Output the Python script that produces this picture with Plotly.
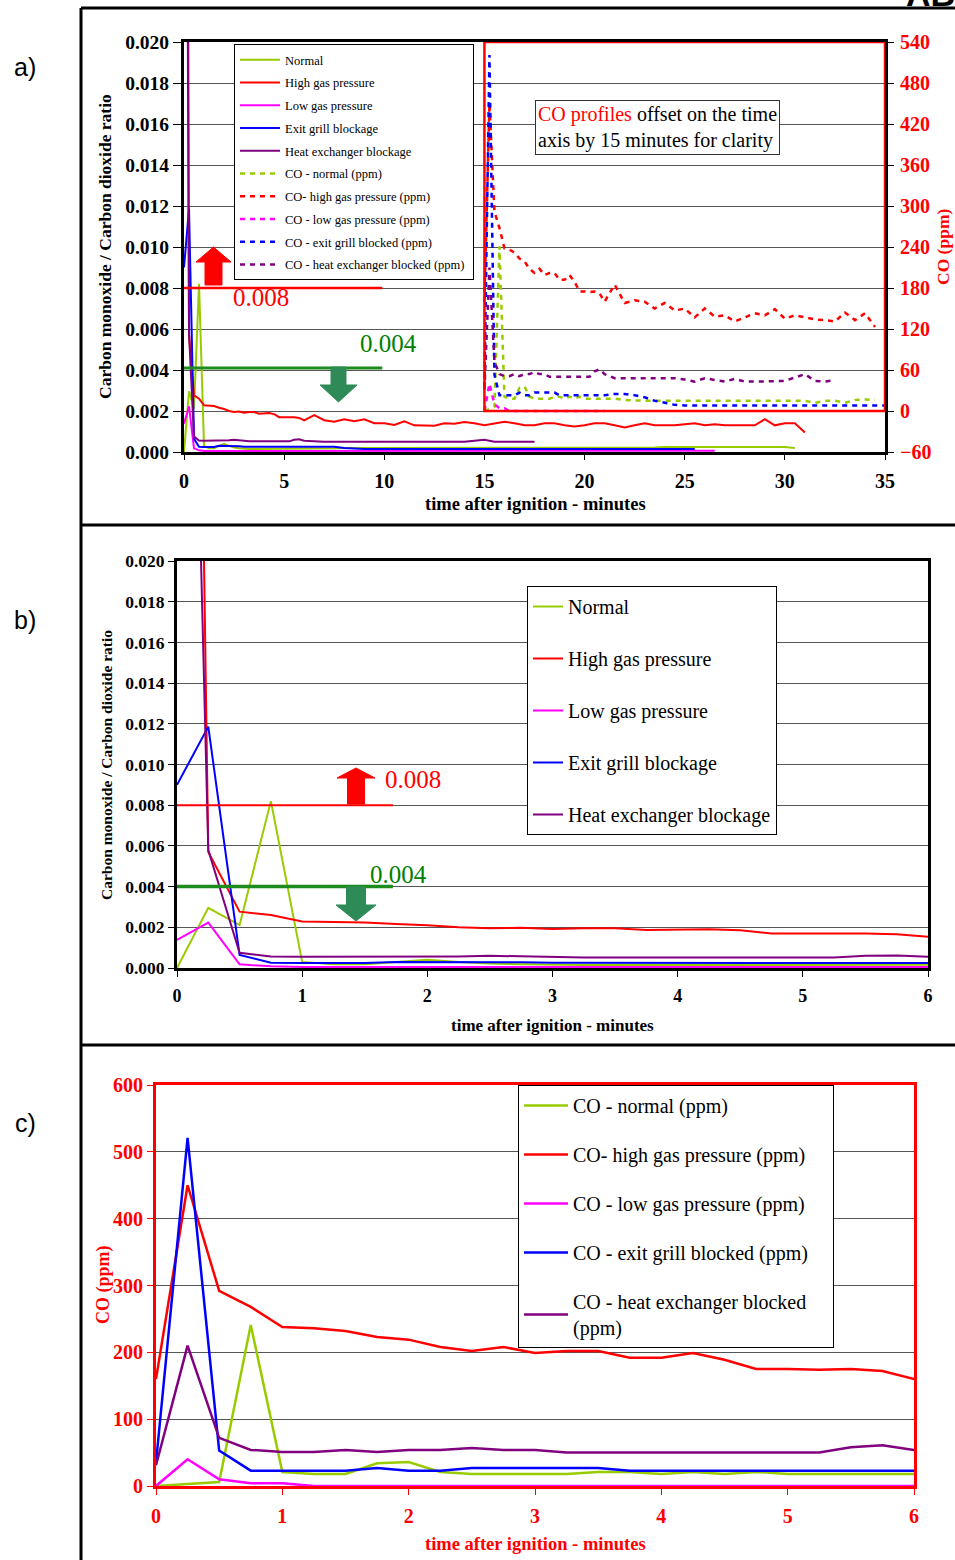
import plotly.graph_objects as go

W, H = 955, 1560


def px(x):
    return x / W


def py(y):
    return 1 - y / H


# ---------------- data ----------------
# sampling grid (minutes after ignition)
T_Q = [0.0, 0.25, 0.5, 0.75, 1.0, 1.25, 1.5, 1.75, 2.0, 2.25, 2.5, 2.75, 3.0,
       3.25, 3.5, 3.75, 4.0, 4.25, 4.5, 4.75, 5.0, 5.25, 5.5, 5.75, 6.0]
T_TAIL = [6.5, 7.0, 7.5, 8.0, 8.5, 9.0, 9.5, 10.0, 10.5, 11.0, 11.5, 12.0, 12.5,
          13.0, 13.5, 14.0, 14.5, 15.0, 15.5, 16.0, 16.5, 17.0, 17.5, 18.0, 18.5,
          19.0, 19.5, 20.0, 20.5, 21.0, 21.5, 22.0, 22.5, 23.0, 23.5, 24.0, 24.5,
          25.0, 25.5, 26.0, 26.5, 27.0, 27.5, 28.0, 28.5, 29.0, 29.5, 30.0, 30.5, 31.0]
TIME = T_Q + T_TAIL
CO_OFFSET = 15  # CO profiles shifted by 15 minutes in panel a

# CO / CO2 ratio
NORMAL_RATIO = [0.0, 0.00296, 0.00211, 0.0082, 0.0003, 0.00018, 0.00018, 0.0003, 0.0004, 0.0003,
                0.00022, 0.00018, 0.00015, 0.00015, 0.00015, 0.00015, 0.00015, 0.00015, 0.00015,
                0.00015, 0.00015, 0.00015, 0.00015, 0.00015, 0.00015,
                0.00018, 0.00018, 0.00018, 0.0002, 0.0002, 0.0002, 0.0002, 0.0002, 0.0002, 0.0002,
                0.0002, 0.0002, 0.0002, 0.0002, 0.0002, 0.0002, 0.00022, 0.00022, 0.00022, 0.00022,
                0.00022, 0.00022, 0.00022, 0.00022, 0.00022, 0.00022, 0.00022, 0.00022, 0.00022, 0.00022,
                0.00022, 0.00022, 0.00022, 0.00022, 0.00022, 0.00024, 0.00024, 0.00024, 0.00024, 0.00024,
                0.00024, 0.00024, 0.00024, 0.00024, 0.00024, 0.00024, 0.00024, 0.00024, 0.0002]
HIGH_RATIO = [0.11, 0.0057, 0.00277, 0.0026, 0.00228, 0.00226, 0.00224, 0.00216, 0.0021, 0.0020,
              0.00195, 0.00198, 0.00192, 0.00195, 0.00195, 0.00187, 0.00187, 0.0019, 0.00185,
              0.0017, 0.0017, 0.0017, 0.0017, 0.00166, 0.00154,
              0.0018, 0.00155, 0.00148, 0.0016, 0.0015, 0.0016, 0.0014, 0.0014, 0.00132, 0.0015,
              0.0013, 0.0013, 0.00128, 0.0014, 0.00138, 0.00146, 0.0014, 0.0013, 0.0014, 0.00148,
              0.0014, 0.0013, 0.0013, 0.0014, 0.0014, 0.0013, 0.00124, 0.0013, 0.0014, 0.0014,
              0.0013, 0.0012, 0.0013, 0.0014, 0.0013, 0.0013, 0.0013, 0.00135, 0.0014, 0.0013,
              0.00135, 0.0013, 0.0013, 0.00132, 0.0013, 0.0016, 0.0013, 0.0014, 0.0014, 0.00095]
LOW_RATIO = [0.00138, 0.00223, 0.00018, 0.00008, 0.00005, 0.00005, 0.00005, 0.00005, 0.00005,
             0.00005, 0.00005, 0.00005, 0.00005, 0.00005, 0.00005, 0.00005, 0.00005, 0.00005,
             0.00005, 0.00005, 0.00005, 0.00005, 0.00005, 0.00005, 0.00005,
             0.00006, 0.00006, 0.00006, 0.00006, 0.00006, 0.00006, 0.00006, 0.00006, 0.00006, 0.00006,
             0.00006, 0.00006, 0.00006, 0.00006, 0.00006, 0.00006, 0.00006, 0.00006, 0.00006, 0.00006,
             0.00006, 0.00006, 0.00006, 0.00006, 0.00006, 0.00006, 0.00006, 0.00006, 0.00006, 0.00006,
             0.00006, 0.00006, 0.00006, 0.00006, 0.00006, 0.00006, 0.00006, 0.00006, 0.00006, 0.00006,
             0.00006]
EXIT_RATIO = [0.0090, 0.01186, 0.00064, 0.00026, 0.00025, 0.00025, 0.00025, 0.0003, 0.0003,
              0.00028, 0.00028, 0.00028, 0.00026, 0.00026, 0.00026, 0.00025, 0.00025, 0.00025,
              0.00025, 0.00025, 0.00025, 0.00025, 0.00025, 0.00025, 0.00025,
              0.00027, 0.00027, 0.00026, 0.0002, 0.00016, 0.00015, 0.00015, 0.00015, 0.00015, 0.00015,
              0.00015, 0.00015, 0.00015, 0.00015, 0.00015, 0.00015, 0.00015, 0.00015, 0.00015, 0.00015,
              0.00015, 0.00015, 0.00015, 0.00015, 0.00015, 0.00015, 0.00015, 0.00015, 0.00015, 0.00015,
              0.00015, 0.00015, 0.00015, 0.00015, 0.00015, 0.00015, 0.00015, 0.00015, 0.00015]
HEAT_RATIO = [0.067, 0.0058, 0.00075, 0.00056, 0.00055, 0.00055, 0.00057, 0.00055, 0.00057,
              0.00057, 0.0006, 0.00057, 0.00052, 0.00052, 0.00052, 0.00052, 0.00052, 0.00052,
              0.00052, 0.00052, 0.00052, 0.00052, 0.0006, 0.00062, 0.00055,
              0.00052, 0.0005, 0.0005, 0.0005, 0.0005, 0.0005, 0.0005, 0.00048, 0.00048, 0.0005,
              0.0005, 0.0005, 0.0005, 0.0005, 0.00048, 0.0005, 0.00055, 0.0006, 0.0005, 0.0005,
              0.0005, 0.0005, 0.0005]

# CO (ppm)
NORMAL_CO = [0, 3, 6, 241, 21, 18, 18, 34, 36, 21, 18, 18, 18, 18, 21, 21, 18, 21, 18, 21,
             18, 18, 18, 18, 18,
             18, 16, 15, 15, 15, 15, 15, 15, 15, 15, 15, 15, 15, 15, 15, 15, 15, 15, 15, 15,
             12, 15, 15, 12, 16, 17, 16]
HIGH_CO = [160, 450, 292, 268, 238, 236, 232, 223, 219, 208, 202, 208, 199, 202, 202, 192, 192,
           199, 189, 175, 175, 174, 175, 172, 160,
           185, 158, 162, 160, 150, 158, 147, 150, 137, 150, 138, 140, 131, 137, 143, 140, 149,
           135, 140, 137, 134, 133, 131, 144, 133, 143, 123]
LOW_CO = [0, 40, 10, 4, 4, 0, 0, 0, 0, 0, 0, 0, 0, 0, 0, 0, 0, 0, 0, 0, 0, 0, 0, 0, 0]
EXIT_CO = [35, 521, 53, 23, 23, 23, 23, 27, 23, 23, 27, 27, 27, 27, 27, 23, 23, 23, 23, 23,
           23, 23, 23, 23, 23,
           25, 25, 23, 20, 15, 12, 9, 8, 8, 8, 8, 8, 8, 8, 8, 8, 8, 8, 8, 8, 8, 8, 8, 8, 8,
           8, 8, 8]
HEAT_CO = [31, 210, 72, 54, 51, 51, 54, 51, 54, 54, 57, 54, 54, 50, 50, 50, 50, 50, 50, 50,
           50, 50, 58, 61, 54,
           48, 48, 48, 48, 48, 48, 48, 46, 43, 48, 46, 43, 47, 43, 43, 43, 43, 44, 49, 54, 44,
           43, 45]

NAMES = ["Normal", "High gas pressure", "Low gas pressure", "Exit grill blockage",
         "Heat exchanger blockage"]
CO_NAMES = ["CO - normal (ppm)", "CO- high gas pressure (ppm)", "CO - low gas pressure (ppm)",
            "CO - exit grill blocked (ppm)", "CO - heat exchanger blocked (ppm)&nbsp;"]
CO_NAMES_C = ["CO - normal (ppm)", "CO- high gas pressure (ppm)", "CO - low gas pressure (ppm)",
              "CO - exit grill blocked (ppm)&nbsp;&nbsp;&nbsp;&nbsp;",
              "CO - heat exchanger blocked<br>(ppm)"]
COLORS = ["#99CC00", "#FF0000", "#FF00FF", "#0000FF", "#800080"]
RATIO = [NORMAL_RATIO, HIGH_RATIO, LOW_RATIO, EXIT_RATIO, HEAT_RATIO]
CO = [NORMAL_CO, HIGH_CO, LOW_CO, EXIT_CO, HEAT_CO]

THRESH_HIGH = 0.008
THRESH_LOW = 0.004

SERIF = "Liberation Serif"
SANS = "Liberation Sans"

fig = go.Figure()

# ---------- panel a ----------
for i in range(5):
    n = min(len(RATIO[i]), len(TIME))
    fig.add_trace(go.Scatter(x=TIME[:n], y=RATIO[i][:n], mode="lines", name=NAMES[i],
                             line=dict(color=COLORS[i], width=2), xaxis="x", yaxis="y",
                             legend="legend", legendgroup="a%d" % i))
for i in range(5):
    n = min(len(CO[i]), len(TIME))
    fig.add_trace(go.Scatter(x=[t + CO_OFFSET for t in TIME[:n]], y=CO[i][:n], mode="lines",
                             name=CO_NAMES[i],
                             line=dict(color=COLORS[i], width=2.5, dash="5px,5px"),
                             xaxis="x", yaxis="y2", legend="legend", legendgroup="a%d" % (i + 5)))
# ---------- panel b ----------
for i in range(5):
    n = min(len(RATIO[i]), len(TIME))
    fig.add_trace(go.Scatter(x=TIME[:n], y=RATIO[i][:n], mode="lines", name=NAMES[i],
                             line=dict(color=COLORS[i], width=2), xaxis="x2", yaxis="y3",
                             legend="legend2", legendgroup="b%d" % i))
# ---------- panel c ----------
for i in range(5):
    n = min(len(CO[i]), len(TIME))
    fig.add_trace(go.Scatter(x=TIME[:n], y=CO[i][:n], mode="lines", name=CO_NAMES_C[i],
                             line=dict(color=COLORS[i], width=2.5), xaxis="x3", yaxis="y4",
                             legend="legend3", legendgroup="c%d" % i))


def tfont(size, color="black"):
    return dict(family=SERIF, size=size, color=color, weight="bold")


common_axis = dict(showline=True, mirror=True, linewidth=3, zeroline=False, ticks="outside",
                   fixedrange=True, automargin=False)

layout = dict(
    template="none",
    width=W, height=H, autosize=False,
    margin=dict(l=0, r=0, t=0, b=0, pad=0, autoexpand=False),
    paper_bgcolor="white", plot_bgcolor="white",
    showlegend=True,
    xaxis=dict(domain=[px(184), px(885)], anchor="y", range=[0, 35], dtick=5,
               tickfont=tfont(20), linecolor="black", tickcolor="black", ticklen=5,
               ticklabelstandoff=4, showgrid=False, **common_axis),
    yaxis=dict(domain=[py(452), py(42)], anchor="x", range=[0, 0.020], dtick=0.002,
               tickformat=".3f", tickfont=tfont(19.5), linecolor="black", tickcolor="black",
               ticklen=8, showgrid=True, gridcolor="#555555", gridwidth=1, **common_axis),
    yaxis2=dict(overlaying="y", side="right", anchor="x", range=[-60, 540], dtick=60,
                tickfont=tfont(20, "#FF0000"), ticks="outside", ticklen=8, tickcolor="black",
                ticklabelstandoff=2,
                showgrid=False, zeroline=False, showline=False, fixedrange=True, automargin=False),
    xaxis2=dict(domain=[px(177), px(928)], anchor="y3", range=[0, 6], dtick=1,
                tickfont=tfont(18), linecolor="black", tickcolor="black", ticklen=6,
                ticklabelstandoff=3, showgrid=False, **common_axis),
    yaxis3=dict(domain=[py(968), py(561)], anchor="x2", range=[0, 0.020], dtick=0.002,
                tickformat=".3f", tickfont=tfont(17.5), linecolor="black", tickcolor="black",
                ticklen=6, showgrid=True, gridcolor="#555555", gridwidth=1, **common_axis),
    xaxis3=dict(domain=[px(156), px(914)], anchor="y4", range=[0, 6], dtick=1,
                tickfont=tfont(20, "#FF0000"), linecolor="#FF0000", tickcolor="#FF0000",
                ticklen=6, ticklabelstandoff=4, showgrid=False, **common_axis),
    yaxis4=dict(domain=[py(1486), py(1085)], anchor="x3", range=[0, 600], dtick=100,
                tickfont=tfont(20, "#FF0000"), linecolor="#FF0000", tickcolor="#FF0000",
                ticklen=6, showgrid=True, gridcolor="#555555", gridwidth=1, **common_axis),
    legend=dict(x=px(234), y=py(44), xanchor="left", yanchor="top", bgcolor="white",
                bordercolor="black", borderwidth=1,
                font=dict(family=SERIF, size=12.5, color="black"), itemwidth=40,
                traceorder="grouped", tracegroupgap=3.5, itemclick=False, itemdoubleclick=False),
    legend2=dict(x=px(527), y=py(586), xanchor="left", yanchor="top", bgcolor="white",
                 bordercolor="black", borderwidth=1,
                 font=dict(family=SERIF, size=20, color="black"),
                 traceorder="grouped", tracegroupgap=23, itemclick=False, itemdoubleclick=False),
    legend3=dict(x=px(518), y=py(1085), xanchor="left", yanchor="top", bgcolor="white",
                 bordercolor="black", borderwidth=1,
                 font=dict(family=SERIF, size=20, color="black"), itemwidth=44,
                 traceorder="grouped", tracegroupgap=20, itemclick=False, itemdoubleclick=False),
)
fig.update_layout(**layout)

ann = []


def text(x, y, s, size, color="black", family=SERIF, angle=0, **kw):
    d = dict(x=px(x), y=py(y), xref="paper", yref="paper", text=s, showarrow=False,
             font=dict(family=family, size=size, color=color), textangle=angle,
             xanchor="center", yanchor="middle")
    d.update(kw)
    ann.append(d)


# axis titles
text(535, 504, "<b>time after ignition - minutes</b>", 18.5)
text(105, 247, "<b>Carbon monoxide / Carbon dioxide ratio</b>", 17.5, angle=-90)
text(943, 247, "<b>CO (ppm)</b>", 17.5, "#FF0000", angle=-90)
text(552.5, 1025, "<b>time after ignition - minutes</b>", 17)
text(106, 765, "<b>Carbon monoxide / Carbon dioxide ratio</b>", 15.5, angle=-90)
text(535, 1544, "<b>time after ignition - minutes</b>", 18.5, "#FF0000")
text(103, 1285, "<b>CO (ppm)</b>", 18, "#FF0000", angle=-90)

# panel labels
text(25, 67, "a)", 25, family=SANS)
text(25, 620, "b)", 25, family=SANS)
text(25, 1123, "c)", 25, family=SANS)
text(930, 15, "<b>AB</b>", 34, family=SANS, yanchor="bottom")

# threshold labels
text(261, 297, "0.008", 25, "#FF0000")
text(388, 343, "0.004", 25, "#008000")
text(413, 779, "0.008", 25, "#FF0000")
text(398, 874, "0.004", 25, "#008000")

# offset note
ann.append(dict(x=px(657.5), y=py(127.5), xref="paper", yref="paper", showarrow=False,
                text="<span style='color:#FF0000'>CO profiles</span> offset on the time<br>"
                     "axis by 15 minutes for clarity",
                font=dict(family=SERIF, size=20, color="black"), align="left",
                bordercolor="#333333", borderwidth=1, borderpad=2, bgcolor="white",
                xanchor="center", yanchor="middle"))

shapes = []


def pline(x0, y0, x1, y1, color="black", width=3):
    shapes.append(dict(type="line", xref="paper", yref="paper", x0=px(x0), y0=py(y0),
                       x1=px(x1), y1=py(y1), line=dict(color=color, width=width), layer="above"))


# outer frame lines
pline(81, 8, 955, 8)
pline(81, 8, 81, 1560)
pline(81, 525, 955, 525)
pline(81, 1045, 955, 1045)

# threshold lines
shapes.append(dict(type="line", xref="x", yref="y", x0=0, x1=9.9, y0=THRESH_HIGH, y1=THRESH_HIGH,
                   line=dict(color="#FF0000", width=2.5), layer="above"))
shapes.append(dict(type="line", xref="x", yref="y", x0=0, x1=9.9, y0=0.0041, y1=0.0041,
                   line=dict(color="#1E8B1E", width=3), layer="above"))
shapes.append(dict(type="line", xref="x2", yref="y3", x0=0, x1=1.725, y0=THRESH_HIGH,
                   y1=THRESH_HIGH, line=dict(color="#FF0000", width=2), layer="above"))
shapes.append(dict(type="line", xref="x2", yref="y3", x0=0, x1=1.725, y0=THRESH_LOW,
                   y1=THRESH_LOW, line=dict(color="#1E8B1E", width=3.5), layer="above"))

# red box marking the CO region of panel a
shapes.append(dict(type="rect", xref="x", yref="y2", x0=CO_OFFSET, x1=35, y0=0, y1=540,
                   line=dict(color="#FF0000", width=2.5), fillcolor="rgba(0,0,0,0)",
                   layer="above"))


def arrow(cx, tip, base, tail, head_half, shaft_half, color):
    pts = [(cx, tip), (cx + head_half, base), (cx + shaft_half, base), (cx + shaft_half, tail),
           (cx - shaft_half, tail), (cx - shaft_half, base), (cx - head_half, base)]
    path = "M " + " L ".join("%.5f,%.5f" % (px(a), py(b)) for a, b in pts) + " Z"
    shapes.append(dict(type="path", xref="paper", yref="paper", path=path, fillcolor=color,
                       line=dict(color=color, width=1), layer="above"))


arrow(213.5, 247, 262, 285, 17.5, 8.5, "#FF0000")
arrow(338.5, 402, 385, 367, 18.5, 7.5, "#2E8B57")
arrow(356, 768, 778, 804, 19, 8.5, "#FF0000")
arrow(356, 921, 905, 887, 20, 9.5, "#2E8B57")

fig.update_layout(annotations=ann, shapes=shapes)
fig.write_html("out.html",
               post_script="document.body.style.margin='0';"
                           "document.body.style.overflow='hidden';")
